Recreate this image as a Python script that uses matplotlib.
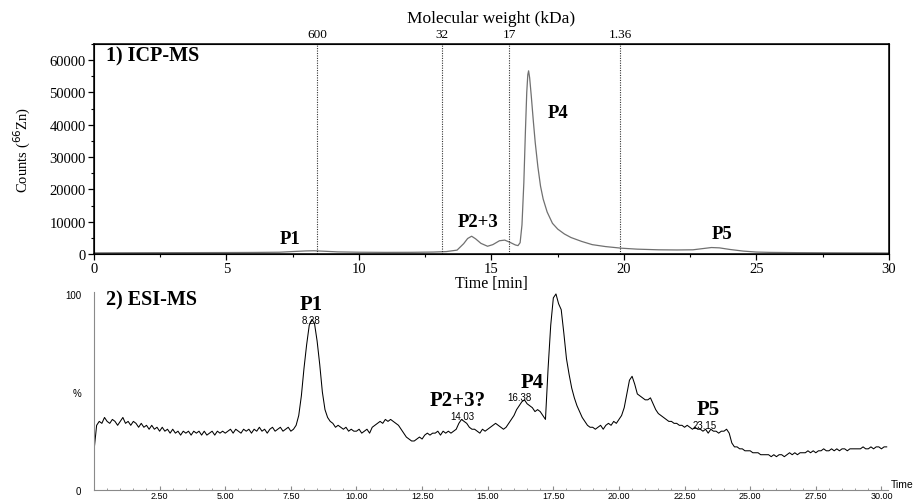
import numpy as np
import matplotlib
matplotlib.use("Agg")
import matplotlib.pyplot as plt
from matplotlib.ticker import MultipleLocator, FixedLocator, FormatStrFormatter

# ---- data ----
# 1) ICP-MS trace (time in min, 66Zn counts)
icp_t = [0, 1, 2, 3, 4, 5, 6, 7, 7.6, 8.0, 8.3, 8.7, 9.2, 10, 11, 12, 12.8, 13.3, 13.7, 13.95,
         14.1, 14.25, 14.4, 14.6, 14.85, 15.05, 15.3, 15.5, 15.7, 15.9,
         16.0, 16.08, 16.15, 16.22, 16.28, 16.33, 16.37, 16.4, 16.44, 16.5,
         16.58, 16.65, 16.75, 16.85, 16.95, 17.1, 17.3, 17.5, 17.75, 18.0,
         18.4, 18.8, 19.3, 19.9, 20.5, 21.3, 22.0, 22.6, 23.0, 23.3,
         23.6, 24.0, 24.5, 25.0, 25.5, 26.5, 27.5, 28.5, 29.5, 30]
icp_counts = [350, 380, 400, 420, 430, 450, 480, 550, 800, 950, 1000, 850, 650, 550, 500, 520, 600, 750, 1200, 3200,
              4800, 5500, 4700, 3300, 2400, 2900, 4100, 4300, 3600, 2800,
              2600, 3500, 9000, 22000, 38000, 50000, 55500, 56700, 54500, 49000,
              41000, 34500, 27000, 21000, 17000, 13000, 9500, 7700, 6200, 5100,
              3900, 2900, 2300, 1800, 1500, 1300, 1250, 1300, 1700, 2000,
              1900, 1400, 900, 600, 500, 420, 380, 350, 330, 300]

# molecular weight calibration marks (time, label)
mw_t = [8.42, 13.13, 15.66, 19.85]
mw_labels = ["600", "32", "17", "1.36"]

# 2) ESI-MS trace, % relative intensity every 0.1 min from 0.0 to 30.2
esi_rows = [
    [20, 33, 35, 34, 37, 35, 34, 36, 35, 33],   # 0
    [35, 37, 34, 35, 33, 35, 34, 32, 34, 32],   # 1
    [33, 31, 33, 31, 32, 30, 32, 30, 31, 29],   # 2
    [31, 29, 30, 28, 30, 29, 30, 28, 30, 29],   # 3
    [30, 28, 30, 28, 29, 30, 28, 30, 29, 30],   # 4
    [29, 30, 31, 29, 31, 30, 29, 31, 30, 31],   # 5
    [29, 31, 30, 32, 30, 31, 29, 31, 32, 30],   # 6
    [31, 32, 30, 31, 32, 30, 31, 33, 38, 48],   # 7
    [62, 74, 84, 87, 85, 76, 64, 50, 41, 37],   # 8
    [35, 34, 32, 33, 32, 31, 32, 30, 31, 30],   # 9
    [30, 31, 29, 30, 31, 29, 32, 33, 34, 35],   # 10
    [34, 36, 35, 36, 35, 34, 33, 31, 29, 27],   # 11
    [26, 25, 25, 26, 27, 26, 28, 29, 28, 29],   # 12
    [29, 30, 28, 30, 29, 30, 29, 30, 31, 34],   # 13
    [36, 35, 34, 32, 31, 31, 30, 29, 31, 30],   # 14
    [31, 32, 33, 34, 33, 32, 31, 32, 34, 36],   # 15
    [38, 41, 43, 45, 46, 44, 43, 42, 40, 41],   # 16
    [40, 38, 36, 62, 84, 98, 100, 95, 92, 80],  # 17
    [67, 59, 52, 47, 43, 40, 37, 35, 33, 32],   # 18
    [32, 31, 32, 33, 31, 33, 34, 33, 35, 34],   # 19
    [36, 38, 42, 49, 56, 58, 54, 49, 48, 47],   # 20
    [46, 46, 47, 44, 41, 39, 38, 37, 36, 35],   # 21
    [35, 34, 34, 33, 33, 32, 33, 32, 31, 32],   # 22
    [31, 31, 30, 31, 29, 31, 30, 30, 29, 30],   # 23
    [30, 31, 29, 24, 22, 22, 21, 21, 20, 20],   # 24
    [20, 19, 19, 19, 18, 18, 18, 18, 17, 18],   # 25
    [17, 18, 18, 17, 18, 19, 18, 19, 18, 19],   # 26
    [19, 19, 20, 19, 20, 19, 20, 20, 21, 20],   # 27
    [20, 21, 20, 21, 20, 21, 21, 20, 21, 21],   # 28
    [21, 21, 21, 22, 21, 21, 22, 21, 22, 22],   # 29
    [21, 22, 22],                               # 30
]
esi_pct = np.concatenate([np.array(r, dtype=float) for r in esi_rows])
esi_t = np.arange(len(esi_pct)) * 0.1

# peak labels
icp_peaks = [("P1", 7.4, 4700), ("P2+3", 14.5, 10200), ("P4", 17.5, 43700), ("P5", 23.7, 6200)]
esi_peaks = [("P1", 8.29, 95.0), ("P2+3?", 13.85, 46.0), ("P4", 16.71, 55.0), ("P5", 23.41, 41.5)]
esi_rt = [("8.28", 8.28, 86.5), ("14.03", 14.04, 38.0), ("16.38", 16.21, 47.2), ("23.15", 23.26, 33.3)]

serif = ["Liberation Serif", "DejaVu Serif"]
sans = ["Liberation Sans", "DejaVu Sans"]

fig = plt.figure(figsize=(9.2, 5.02), dpi=100)

# ---------------- top panel: ICP-MS ----------------
ax1 = fig.add_axes([94 / 920, 1 - 255 / 502, 795 / 920, 210 / 502])
ax1.plot(icp_t, icp_counts, color="#707070", lw=0.9)
for t in mw_t:
    ax1.axvline(t, color="#333333", ls=(0, (1, 1.2)), lw=0.8)
ax1.set_xlim(0, 30)
ax1.set_ylim(0, 65000)
ax1.xaxis.set_major_locator(MultipleLocator(5))
ax1.xaxis.set_minor_locator(MultipleLocator(2.5))
ax1.yaxis.set_major_locator(MultipleLocator(10000))
ax1.yaxis.set_minor_locator(MultipleLocator(5000))
ax1.tick_params(which="major", length=4, width=0.9, labelsize=10.5, pad=2)
ax1.tick_params(which="minor", length=2.5, width=0.8)
for lab in ax1.get_xticklabels() + ax1.get_yticklabels():
    lab.set_family(serif)
for sp in ax1.spines.values():
    sp.set_linewidth(1.1)
ax1.set_xlabel("Time [min]", family=serif, fontsize=11.5, labelpad=0)
ax1.set_ylabel("Counts ($^{66}$Zn)", family=serif, fontsize=10.5, labelpad=12)
ax1.text(0.45, 61300, "1) ICP-MS", family=serif, fontsize=14.5, fontweight="bold", va="center")
for name, x, y in icp_peaks:
    ax1.text(x, y, name, family=serif, fontsize=13.5, fontweight="bold", ha="center", va="center")

top = ax1.twiny()
top.set_xlim(ax1.get_xlim())
top.xaxis.set_major_locator(FixedLocator(mw_t))
top.set_xticklabels(mw_labels, family=serif, fontsize=9.5)
top.tick_params(length=0, pad=3)
top.set_xlabel("Molecular weight (kDa)", family=serif, fontsize=12.5, labelpad=4)

# ---------------- bottom panel: ESI-MS ----------------
ax2 = fig.add_axes([94 / 920, 1 - 491 / 502, 794 / 920, 198 / 502])
ax2.plot(esi_t, esi_pct, color="black", lw=0.75)
ax2.set_xlim(0, 30.25)
ax2.set_ylim(0, 101)
for s in ("top", "right"):
    ax2.spines[s].set_visible(False)
for s in ("left", "bottom"):
    ax2.spines[s].set_color("#8a8a8a")
    ax2.spines[s].set_linewidth(0.8)
ax2.xaxis.set_major_locator(FixedLocator(np.arange(2.5, 30.01, 2.5)))
ax2.xaxis.set_major_formatter(FormatStrFormatter("%.2f"))
ax2.xaxis.set_minor_locator(MultipleLocator(0.5))
ax2.set_yticks([0, 50, 100])
ax2.set_yticklabels(["0", "%", "100"])
ax2.tick_params(axis="x", which="major", direction="in", length=3, color="#8a8a8a", labelsize=6.5, pad=0.5)
ax2.tick_params(axis="x", which="minor", direction="in", length=1.5, color="#8a8a8a")
ax2.tick_params(axis="y", length=0, labelsize=7, pad=9)
for lab in ax2.get_xticklabels() + ax2.get_yticklabels():
    lab.set_family(sans)
ax2.text(0.45, 97, "2) ESI-MS", family=serif, fontsize=14.5, fontweight="bold", va="center")
for name, x, y in esi_peaks:
    ax2.text(x, y, name, family=serif, fontsize=15, fontweight="bold", ha="center", va="center")
for name, x, y in esi_rt:
    ax2.text(x, y, name, family=sans, fontsize=7, ha="center", va="center")
ax2.annotate("Time", xy=(1.0, 0), xycoords="axes fraction", xytext=(2, 1),
             textcoords="offset points", family=sans, fontsize=7.5, ha="left", va="bottom")

fig.savefig("out.png", dpi=100)
